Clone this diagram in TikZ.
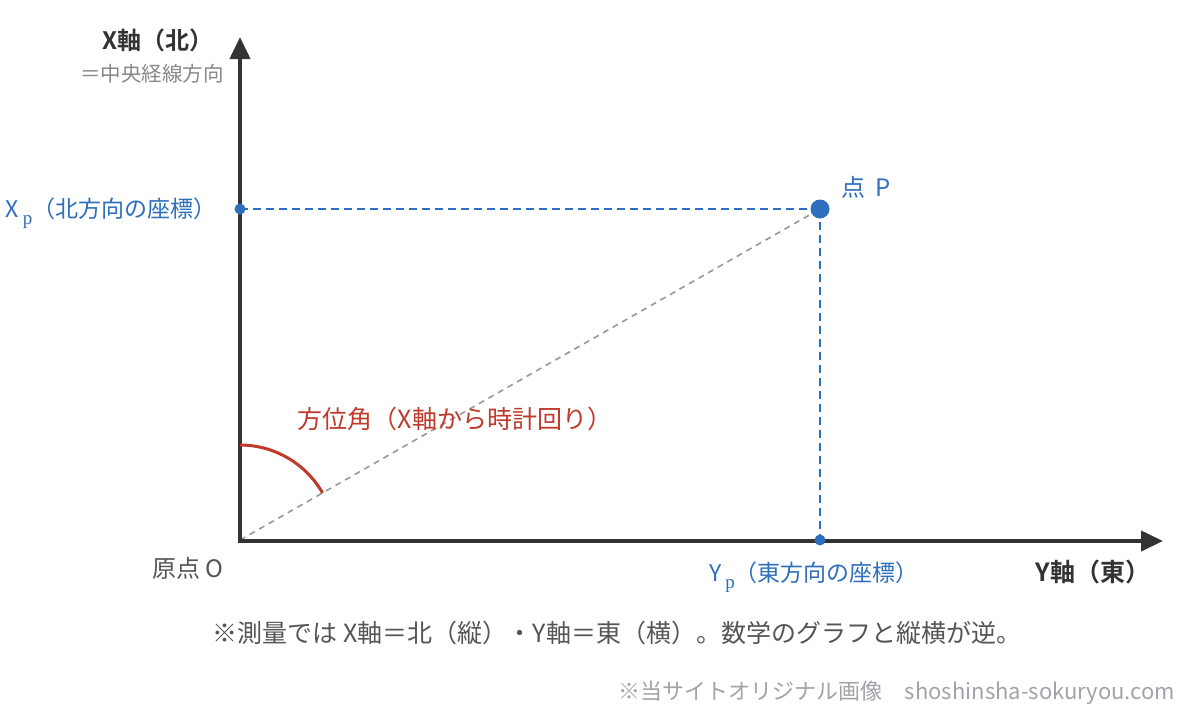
\documentclass[tikz,border=0pt]{standalone}
\usepackage{fontspec}
\setmainfont{Noto Sans CJK JP}
\newfontfamily\jpbold{Noto Sans CJK JP}[BoldFont={* Bold}]
\newfontfamily\serifp{Liberation Serif}
\newcommand{\subp}{\,\raisebox{-0.32em}{\serifp\fontsize{19}{21}\selectfont p}}
\usetikzlibrary{arrows.meta}
\definecolor{axisc}{HTML}{333333}
\definecolor{bluec}{HTML}{2E6FBD}
\definecolor{redc}{HTML}{C0392B}
\definecolor{grayd}{HTML}{999999}
\definecolor{textg}{HTML}{555555}
\definecolor{lightg}{HTML}{888888}
\definecolor{footg}{HTML}{A0A4A8}
\begin{document}
\begin{tikzpicture}[x=1pt,y=-1pt,
  axisline/.style={line width=4pt,draw=axisc,-{Triangle[length=22pt,width=20pt]}},
  bluedash/.style={draw=bluec,line width=1.6pt,dash pattern=on 8pt off 5pt},
  graydash/.style={draw=grayd,line width=1.6pt,dash pattern=on 6pt off 5pt},
  lbl/.style={inner sep=0pt,anchor=center}]
\useasboundingbox (0,0) rectangle (1188,716);
\fill[white] (0,0) rectangle (1188,716);
\coordinate (O) at (240,540);
\coordinate (Xtip) at (240,37);
\coordinate (Ytip) at (1163,541);
\coordinate (Xp) at (240,209);
\coordinate (Yp) at (820,540);
\coordinate (P) at (820,209);
% dashed lines
\draw[graydash] (O) -- (P);
\draw[bluedash] (Xp) -- (P);
\draw[bluedash] (P) -- (Yp);
% axes
\draw[axisline] (238,541) -- (Ytip);
\draw[axisline] (240,542) -- (Xtip);
% arc
\draw[redc,line width=3pt] (240,445) arc[start angle=-90,end angle=-29.7,radius=95];
% dots
\fill[bluec] (Xp) circle (5.5);
\fill[bluec] (Yp) circle (5.5);
\fill[bluec] (P) circle (9.5);
% labels
\node[lbl,text=axisc,font=\jpbold\bfseries\fontsize{24}{28}\selectfont] (xaxl) at (158,40) {X軸（北）};
\node[lbl,text=lightg,font=\fontsize{20.5}{24}\selectfont] (xaxs) at (152,74) {＝中央経線方向};
\node[lbl,text=bluec,font=\fontsize{23}{27}\selectfont,anchor=base] (xpl) at (111,217) {X\subp（北方向の座標）};
\node[lbl,text=bluec,font=\fontsize{24}{28}\selectfont] (pl) at (866,187) {点\hspace{0.45em}P};
\node[lbl,text=redc,font=\fontsize{25}{29}\selectfont] (angl) at (455,419) {方位角（X軸から時計回り）};
\node[lbl,text=textg,font=\fontsize{24}{28}\selectfont] (ol) at (188,568) {原点 O};
\node[lbl,text=bluec,font=\fontsize{23}{27}\selectfont,anchor=base] (ypl) at (814,581) {Y\subp（東方向の座標）};
\node[lbl,text=axisc,font=\jpbold\bfseries\fontsize{25}{29}\selectfont] (yaxl) at (1093,572) {Y軸（東）};
\node[lbl,text=textg,font=\fontsize{25}{29}\selectfont] (note) at (617,633) {※測量では X軸＝北（縦）・Y軸＝東（横）。数学のグラフと縦横が逆。};
\node[lbl,text=footg,font=\fontsize{22}{26}\selectfont] (foot) at (897,693) {※当サイトオリジナル画像\hspace{1em}shoshinsha-sokuryou.com};
\end{tikzpicture}
\end{document}
